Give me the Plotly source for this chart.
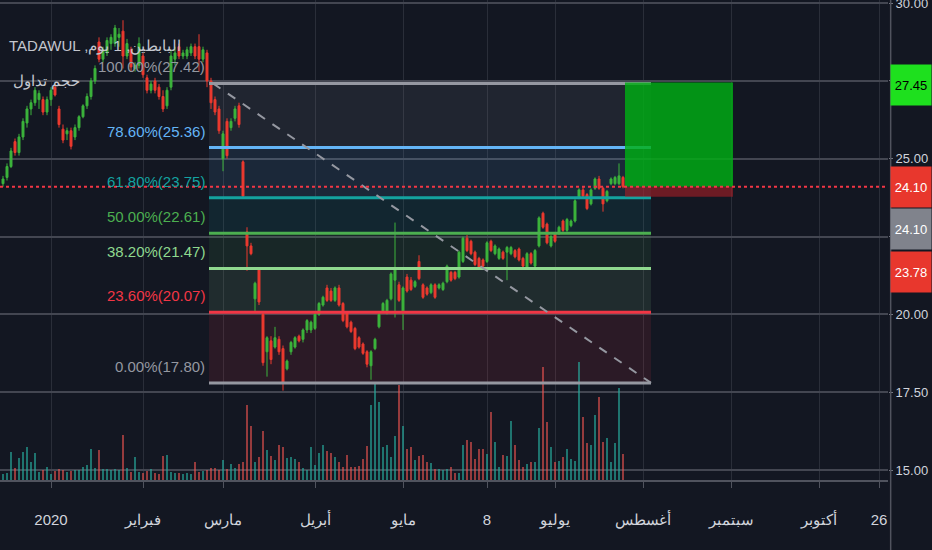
import plotly.graph_objects as go

# daily bars (Tadawul trading days), index 0 = first visible bar
opens = [24.20, 24.40, 24.75, 25.55, 25.20, 25.70, 26.15, 26.60, 26.80, 26.90,
         26.90, 26.50, 26.90, 27.30, 26.60, 25.95, 25.80, 25.90, 25.70, 26.00,
         26.35, 26.70, 27.00, 27.50, 28.75, 28.20, 28.40, 28.70, 28.70, 28.90,
         29.10, 28.30, 28.50, 27.90, 28.00, 28.30, 27.60, 27.20, 27.50, 27.30,
         27.00, 26.70, 27.30, 28.20, 28.60, 28.30, 28.30, 28.40, 28.60, 28.60,
         28.20, 28.40, 27.50, 26.90, 26.60, 25.00, 26.20, 26.00, 26.30, 26.70,
         24.90, 22.65, 22.20, 20.50, 21.45, 20.00, 18.80, 19.15, 18.95, 19.20,
         18.90, 18.25, 18.80, 18.95, 19.30, 19.20, 19.50, 19.50, 19.55, 20.00,
         20.30, 20.85, 20.75, 20.45, 20.85, 20.35, 20.05, 19.75, 19.55, 19.25,
         19.05, 18.80, 18.35, 18.90, 19.60, 20.10, 20.10, 20.50, 21.10, 20.95,
         20.10, 21.20, 21.10, 20.90, 21.70, 20.95, 20.85, 20.70, 20.95, 20.85,
         20.80, 21.05, 21.35, 21.35, 21.20, 21.70, 22.45, 22.35, 22.00, 21.80,
         21.75, 21.70, 22.35, 21.95, 21.80, 22.00, 22.00, 21.95, 22.05, 22.10,
         21.80, 21.50, 21.95, 21.55, 22.20, 23.25, 22.90, 22.20, 22.60, 22.60,
         23.00, 22.70, 22.85, 23.00, 23.75, 24.00, 23.85, 23.55, 24.05, 24.35,
         24.05, 23.65, 24.20, 24.20, 24.20, 24.40]
highs = [24.45, 24.85, 25.35, 25.65, 25.80, 26.30, 26.70, 26.90, 27.30, 27.20,
         27.00, 27.00, 27.30, 27.40, 26.70, 26.10, 26.00, 26.00, 26.10, 26.40,
         26.75, 27.10, 27.60, 28.00, 28.90, 28.60, 28.90, 29.00, 29.30, 29.20,
         29.45, 28.85, 28.60, 28.10, 28.90, 28.40, 27.70, 27.50, 27.60, 27.40,
         27.20, 27.30, 28.50, 28.60, 28.70, 28.50, 28.60, 28.70, 28.70, 29.00,
         28.60, 28.50, 27.60, 27.00, 26.70, 25.90, 26.30, 26.30, 26.70, 26.80,
         24.95, 22.80, 22.30, 21.05, 21.50, 20.10, 19.30, 19.30, 19.60, 19.30,
         19.00, 18.55, 19.15, 19.30, 19.35, 19.55, 19.85, 19.80, 20.05, 20.40,
         20.60, 20.95, 20.85, 20.90, 20.95, 20.40, 20.10, 19.80, 19.60, 19.30,
         19.10, 18.85, 18.85, 19.25, 20.05, 20.40, 20.50, 21.35, 22.95, 21.05,
         20.90, 21.30, 21.20, 21.10, 21.90, 21.00, 20.90, 21.00, 21.00, 21.00,
         21.05, 21.60, 21.40, 21.40, 22.05, 22.50, 22.55, 22.40, 22.05, 21.85,
         21.80, 22.35, 22.40, 22.25, 22.15, 22.05, 22.20, 22.20, 22.10, 22.15,
         21.85, 22.00, 22.00, 22.10, 23.15, 23.30, 22.95, 22.55, 22.65, 22.85,
         23.05, 23.10, 23.05, 23.70, 24.05, 24.10, 23.90, 24.05, 24.40, 24.45,
         24.10, 24.00, 24.40, 24.45, 24.85, 24.45]
lows = [24.10, 24.30, 24.70, 25.10, 25.10, 25.60, 26.00, 26.40, 26.70, 26.60,
        26.40, 26.40, 26.70, 27.00, 26.00, 25.50, 25.60, 25.30, 25.60, 25.90,
        26.30, 26.60, 26.90, 27.40, 28.10, 28.10, 28.30, 28.50, 28.60, 28.60,
        27.90, 28.20, 27.80, 27.80, 27.90, 27.60, 27.10, 27.10, 27.10, 26.90,
        26.50, 26.60, 27.20, 28.00, 28.20, 28.20, 28.20, 28.30, 28.20, 27.80,
        28.10, 27.30, 26.60, 26.40, 25.80, 24.60, 25.00, 25.90, 26.20, 26.00,
        23.75, 21.40, 21.90, 20.05, 20.30, 18.35, 18.00, 18.40, 18.90, 18.70,
        17.55, 18.20, 18.70, 18.90, 19.10, 19.10, 19.40, 19.40, 19.50, 19.95,
        20.25, 20.40, 20.40, 20.40, 20.25, 19.75, 19.55, 19.40, 18.85, 18.90,
        18.70, 18.30, 17.90, 18.85, 19.55, 20.05, 20.00, 20.45, 19.90, 20.40,
        19.50, 20.70, 20.75, 20.85, 21.10, 20.50, 20.60, 20.65, 20.50, 20.80,
        20.75, 21.00, 21.05, 21.10, 21.15, 21.65, 22.00, 21.90, 21.55, 21.45,
        21.50, 21.65, 22.00, 21.90, 21.75, 21.75, 21.10, 21.90, 21.80, 21.70,
        21.50, 21.45, 21.60, 21.50, 22.15, 22.75, 22.25, 22.15, 22.30, 22.55,
        22.65, 22.65, 22.80, 22.95, 23.70, 23.75, 23.35, 23.50, 24.00, 24.00,
        23.30, 23.60, 24.15, 24.15, 24.15, 24.05]
closes = [24.35, 24.75, 25.25, 25.20, 25.70, 26.20, 26.60, 26.80, 27.20, 27.10,
          26.50, 26.90, 27.20, 27.05, 26.10, 25.60, 25.90, 25.40, 26.00, 26.35,
          26.70, 27.00, 27.50, 27.90, 28.20, 28.50, 28.80, 28.90, 29.20, 29.00,
          28.30, 28.70, 27.95, 28.00, 28.70, 27.70, 27.20, 27.40, 27.20, 27.00,
          26.60, 27.20, 28.30, 28.40, 28.30, 28.40, 28.50, 28.60, 28.30, 28.20,
          28.50, 27.50, 26.80, 26.50, 25.90, 25.80, 25.10, 26.20, 26.60, 26.10,
          23.80, 22.20, 21.95, 21.00, 20.40, 18.45, 19.25, 18.55, 19.25, 18.80,
          17.80, 18.50, 19.10, 19.25, 19.15, 19.50, 19.80, 19.75, 20.00, 20.35,
          20.55, 20.45, 20.45, 20.85, 20.30, 19.80, 19.60, 19.45, 18.90, 18.95,
          18.75, 18.40, 18.80, 19.20, 20.00, 20.35, 20.45, 21.30, 21.50, 20.45,
          20.85, 20.75, 20.80, 21.05, 21.15, 20.55, 20.65, 20.95, 20.55, 20.95,
          21.00, 21.55, 21.10, 21.15, 22.00, 22.45, 22.05, 21.95, 21.60, 21.50,
          21.55, 22.30, 22.05, 22.20, 22.10, 21.80, 22.15, 22.15, 21.85, 21.75,
          21.55, 21.95, 21.65, 22.05, 23.10, 22.80, 22.30, 22.50, 22.35, 22.80,
          22.70, 23.05, 23.00, 23.65, 24.00, 23.80, 23.40, 24.00, 24.35, 24.05,
          23.55, 23.95, 24.35, 24.40, 24.45, 24.10]
# volume, millions of shares
volumes = [0.6, 0.7, 2.8, 1.2, 2.2, 2.8, 3.3, 1.8, 2.7, 0.8,
           1.0, 1.3, 0.6, 0.9, 1.1, 1.0, 0.8, 0.9, 1.0, 1.0,
           1.3, 1.5, 3.1, 1.2, 3.0, 1.1, 1.1, 1.0, 1.1, 1.0,
           4.5, 1.2, 0.8, 2.3, 0.8, 0.7, 0.9, 1.1, 0.7, 0.6,
           2.4, 2.5, 0.8, 0.7, 0.7, 0.6, 0.7, 0.6, 1.8, 0.8,
           0.9, 1.0, 1.2, 1.2, 1.0, 2.0, 1.1, 1.6, 1.2, 1.6,
           1.8, 7.5, 5.4, 1.8, 2.3, 4.9, 3.0, 2.4, 2.0, 3.5,
           3.3, 2.2, 2.3, 2.1, 1.8, 1.2, 1.0, 3.3, 1.5, 2.7,
           3.5, 2.9, 2.7, 2.3, 1.8, 1.3, 2.5, 1.3, 1.3, 1.4,
           2.1, 3.4, 7.5, 9.7, 7.8, 3.3, 3.5, 2.3, 4.4, 9.5,
           5.4, 3.1, 3.3, 2.0, 2.4, 2.5, 1.8, 1.7, 1.1, 1.1,
           1.0, 1.1, 1.3, 0.7, 0.7, 3.5, 4.0, 3.8, 2.1, 3.1,
           3.1, 2.6, 6.8, 3.8, 1.3, 2.5, 2.4, 5.9, 3.5, 2.0,
           1.3, 1.6, 1.8, 1.8, 5.2, 11.3, 5.8, 3.3, 1.8, 1.9,
           2.3, 3.1, 2.1, 1.9, 11.8, 6.3, 3.7, 3.5, 6.5, 8.3,
           3.8, 4.2, 1.8, 3.7, 9.2, 2.6]

tick_bars = [12, 35, 55, 78, 100, 121, 138, 160, 182, 204, 219]
tick_labels = ["2020", "فبراير", "مارس", "أبريل", "مايو", "8", "يوليو",
               "أغسطس", "سبتمبر", "أكتوبر", "26"]
price_ticks = [15.0, 17.5, 20.0, 22.5, 25.0, 27.5, 30.0]
hidden_ticks = [22.5, 27.5]  # covered by the price-scale labels

# fibonacci retracement drawn from the Feb high to the Apr low
fib_bars = [51.5, 162]
fib_high = 27.42
fib_low = 17.80
fib_pcts = [1.0, 0.786, 0.618, 0.5, 0.382, 0.236, 0.0]
fib_colors = ["#9598a1", "#64b5f6", "#14a3a0", "#4caf50", "#8fd98f", "#f23645", "#9598a1"]

# long position tool
pos_bars = [155.5, 182.5]
pos_entry = 24.10
pos_target = 27.45
pos_stop = 23.78
last_price = closes[-1]

BG = "#131722"
TXT = "#d1d4dc"
FONT = "Liberation Sans, Arial, sans-serif"
UP, DOWN = "#3cb43c", "#ec3a2f"

bars = list(range(len(closes)))
vol_colors = ["rgba(38,166,154,0.65)" if c >= o else "rgba(239,83,80,0.6)"
              for o, c in zip(opens, closes)]

fig = go.Figure()
fig.add_trace(go.Bar(x=bars, y=volumes, marker_color=vol_colors, marker_line_width=0,
                     width=0.5, yaxis="y2", hoverinfo="skip"))
fig.add_trace(go.Candlestick(
    x=bars, open=opens, high=highs, low=lows, close=closes,
    increasing=dict(line=dict(color=UP, width=1), fillcolor=UP),
    decreasing=dict(line=dict(color=DOWN, width=1), fillcolor=DOWN),
    whiskerwidth=0, yaxis="y"))

levels = [fib_low + p * (fib_high - fib_low) for p in fib_pcts]
shapes = []
annotations = []

# fib bands, tinted with colour of upper level
for k in range(len(levels) - 1):
    c = fib_colors[k].lstrip("#")
    r, g, b = int(c[0:2], 16), int(c[2:4], 16), int(c[4:6], 16)
    shapes.append(dict(type="rect", xref="x", yref="y", x0=fib_bars[0], x1=fib_bars[1],
                       y0=levels[k + 1], y1=levels[k], line_width=0, layer="between",
                       fillcolor=f"rgba({r},{g},{b},0.11)"))
for p, lv, col in zip(fib_pcts, levels, fib_colors):
    shapes.append(dict(type="line", xref="x", yref="y", x0=fib_bars[0], x1=fib_bars[1],
                       y0=lv, y1=lv, line=dict(color=col, width=3)))
    annotations.append(dict(x=fib_bars[0], y=lv, xref="x", yref="y", xanchor="right",
                            yanchor="bottom", xshift=-2, yshift=6, showarrow=False,
                            text=f"{p * 100:.2f}%({lv:.2f})",
                            font=dict(family=FONT, size=15, color=col)))
shapes.append(dict(type="line", xref="x", yref="y", x0=fib_bars[0] + 1, x1=fib_bars[1],
                   y0=fib_high, y1=fib_low,
                   line=dict(color="#9598a1", width=2, dash="dash")))

# long position box
shapes.append(dict(type="rect", xref="x", yref="y", x0=pos_bars[0], x1=pos_bars[1],
                   y0=pos_entry, y1=pos_target, line_width=0,
                   fillcolor="rgba(0,175,20,0.82)"))
shapes.append(dict(type="rect", xref="x", yref="y", x0=pos_bars[0], x1=pos_bars[1],
                   y0=pos_stop, y1=pos_entry, line_width=0,
                   fillcolor="rgba(170,30,38,0.6)"))

# last price dotted line
shapes.append(dict(type="line", xref="paper", yref="y", x0=0, x1=1,
                   y0=last_price, y1=last_price,
                   line=dict(color="#f23645", width=1.8, dash="dot")))
# price scale separator
shapes.append(dict(type="line", xref="paper", yref="paper", x0=1.003, x1=1.003,
                   y0=-0.146, y1=1, line=dict(color="#50535e", width=1.5)))

# price scale labels
for price, bg, fg, shift in [(pos_target, "#1ee01e", "#000000", -3),
                             (last_price, "#e8372d", "#ffffff", 0),
                             (pos_entry, "#80838c", "#ffffff", -42),
                             (pos_stop, "#e8372d", "#ffffff", -75)]:
    annotations.append(dict(x=1, y=price, xref="paper", yref="y", xanchor="left",
                            xshift=2, yshift=shift, showarrow=False, text=f"{price:.2f}",
                            bgcolor=bg, width=40, height=40, borderpad=0,
                            font=dict(family=FONT, size=13, color=fg)))

# legend
annotations.append(dict(x=0.008, y=0.928, xref="paper", yref="paper", xanchor="left",
                        showarrow=False, text="TADAWUL ,يوم\u200e 1\u200e ,البابطين",
                        font=dict(family=FONT, size=15, color="#c3c6ce")))
annotations.append(dict(x=0.012, y=0.855, xref="paper", yref="paper", xanchor="left",
                        showarrow=False, text="حجم تداول",
                        font=dict(family=FONT, size=15, color="#c3c6ce")))

fig.update_layout(
    width=932, height=550,
    paper_bgcolor=BG, plot_bgcolor=BG,
    margin=dict(l=0, r=44, t=0, b=70, autoexpand=False),
    showlegend=False, bargap=0,
    font=dict(family=FONT, color=TXT, size=14),
    shapes=shapes, annotations=annotations,
    xaxis=dict(range=[-0.75, 221.25], tickvals=tick_bars, ticktext=tick_labels,
               showgrid=True, gridcolor="#2a2e39", gridwidth=1, zeroline=False,
               showline=True, linecolor="#50535e", linewidth=2,
               ticks="outside", ticklen=6, tickcolor="#50535e",
               ticklabelstandoff=19, rangeslider=dict(visible=False),
               automargin=False,
               tickfont=dict(family=FONT, size=15, color=TXT), fixedrange=True),
    yaxis=dict(range=[14.68, 30.1], side="right", tickvals=price_ticks,
               ticktext=["" if t in hidden_ticks else f"{t:.2f}" for t in price_ticks],
               showgrid=True, gridcolor="#434651", gridwidth=2, zeroline=False,
               showline=False, ticks="outside", ticklen=4, tickcolor="#787b86",
               automargin=False, ticklabeloverflow="allow",
               tickfont=dict(family=FONT, size=13, color=TXT)),
    yaxis2=dict(overlaying="y", range=[0, 48], visible=False),
)

# drop the page's default body margin so the chart sits flush in the window
fig.write_html("out.html", config={"displayModeBar": False},
               post_script="document.body.style.margin='0';"
                           "document.body.style.background='#131722';")
